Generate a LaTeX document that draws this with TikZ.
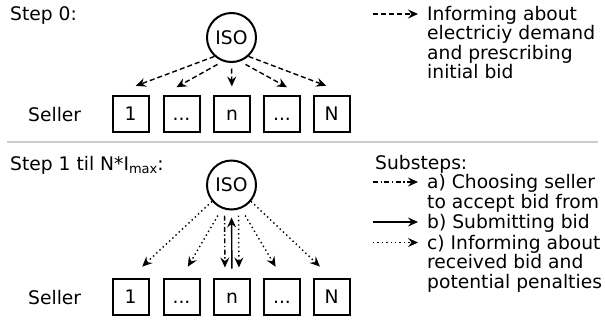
\documentclass[tikz,border=0pt]{standalone}
\usepackage{fontspec}
\setmainfont{DejaVu Sans}
\usetikzlibrary{arrows.meta,calc}
\definecolor{sepgray}{RGB}{204,204,204}
\begin{document}
\begin{tikzpicture}[x=1pt,y=-1pt,
  every node/.style={font=\fontsize{18.7}{20}\selectfont, inner sep=0pt},
  box/.style={draw, line width=2pt, minimum width=36pt, minimum height=36pt, text height=13.6pt, text depth=0pt},
  iso/.style={draw, circle, line width=2pt, minimum size=49pt},
  arr/.style={line width=1.4pt, -{Stealth[length=10pt,width=9pt,inset=3.5pt]}},
  dsh/.style={dash pattern=on 5pt off 3pt},
  dt/.style={dash pattern=on 1.4pt off 3pt},
  dd/.style={dash pattern=on 5pt off 2.5pt on 1.4pt off 2.5pt},
  lbl/.style={anchor=base west},
]
\useasboundingbox (0,0) rectangle (605,322);

% ---------- Step 0 ----------
\node[lbl] (s0) at (10,20) {Step 0:};
\node[iso] (iso0) at (231.5,37.5) {ISO};
\node[lbl] (sl0) at (28,121.5) {Seller};
\node[box] (a1) at (130.5,114) {1};
\node[box] (a2) at (181.5,114) {...};
\node[box] (a3) at (232,114) {n};
\node[box] (a4) at (282,114) {...};
\node[box] (a5) at (331.5,114) {N};

\draw[arr,dsh,shorten >=26pt] (iso0.-132) -- (a1.north west);
\draw[arr,dsh,shorten <=6pt,shorten >=16pt] (iso0.-110) -- (a2.north west);
\draw[arr,dsh,shorten <=5.5pt,shorten >=8.5pt] (iso0.south) -- (a3.north);
\draw[arr,dsh,shorten <=6pt,shorten >=16pt] (iso0.-70) -- (a4.north east);
\draw[arr,dsh,shorten >=26pt] (iso0.-48) -- (a5.north east);

% legend 0
\coordinate (l0a) at (373,14);
\coordinate (l0b) at (418,14);
\draw[arr,dsh] (l0a) -- (l0b);
\node[lbl] (t01) at (427,20) {Informing about};
\node[lbl] (t02) at (427,39.5) {electriciy demand};
\node[lbl] (t03) at (427,59) {and prescribing};
\node[lbl] (t04) at (427,78.5) {initial bid};

% separator
\draw[sepgray, line width=2pt] (7,142) -- (598,142);

% ---------- Step 1 ----------
\node[lbl] (s1) at (10,170) {Step 1 til N*I\raisebox{-3.5pt}{\fontsize{13}{13}\selectfont max}:};
\node[iso] (iso1) at (231.5,185) {ISO};
\node[lbl] (sl1) at (28,304) {Seller};
\node[box] (b1) at (130.5,296.5) {1};
\node[box] (b2) at (181.5,296.5) {...};
\node[box] (b3) at (232,296.5) {n};
\node[box] (b4) at (282,296.5) {...};
\node[box] (b5) at (331.5,296.5) {N};

\draw[arr,dt,shorten >=16pt] (iso1.-140) -- (b1.north);
\draw[arr,dt,shorten <=8pt,shorten >=12.5pt] (iso1.-112) -- (b2.north);
\draw[arr,dd,shorten <=5pt,shorten >=10pt] ([xshift=-7pt]iso1.south) -- ([xshift=-7pt]b3.north);
\draw[arr,shorten <=9pt,shorten >=7pt] (b3.north) -- (iso1.south);
\draw[arr,dt,shorten <=5pt,shorten >=10pt] ([xshift=7pt]iso1.south) -- ([xshift=7pt]b3.north);
\draw[arr,dt,shorten <=8pt,shorten >=12.5pt] (iso1.-68) -- (b4.north);
\draw[arr,dt,shorten >=16pt] (iso1.-40) -- (b5.north);

% legend 1
\node[lbl] (u0) at (375,169) {Substeps:};
\coordinate (la1) at (373,182);
\coordinate (la2) at (418,182);
\draw[arr,dd] (la1) -- (la2);
\node[lbl] (u1) at (427,188) {a) Choosing seller};
\node[lbl] (u2) at (427,208) {to accept bid from};
\coordinate (lb1) at (373,222);
\coordinate (lb2) at (418,222);
\draw[arr] (lb1) -- (lb2);
\node[lbl] (u3) at (427,228) {b) Submitting bid};
\coordinate (lc1) at (373,242.5);
\coordinate (lc2) at (418,242.5);
\draw[arr,dt] (lc1) -- (lc2);
\node[lbl] (u4) at (427,249) {c) Informing about};
\node[lbl] (u5) at (427,268.5) {received bid and};
\node[lbl] (u6) at (427,288) {potential penalties};
\end{tikzpicture}
\end{document}
